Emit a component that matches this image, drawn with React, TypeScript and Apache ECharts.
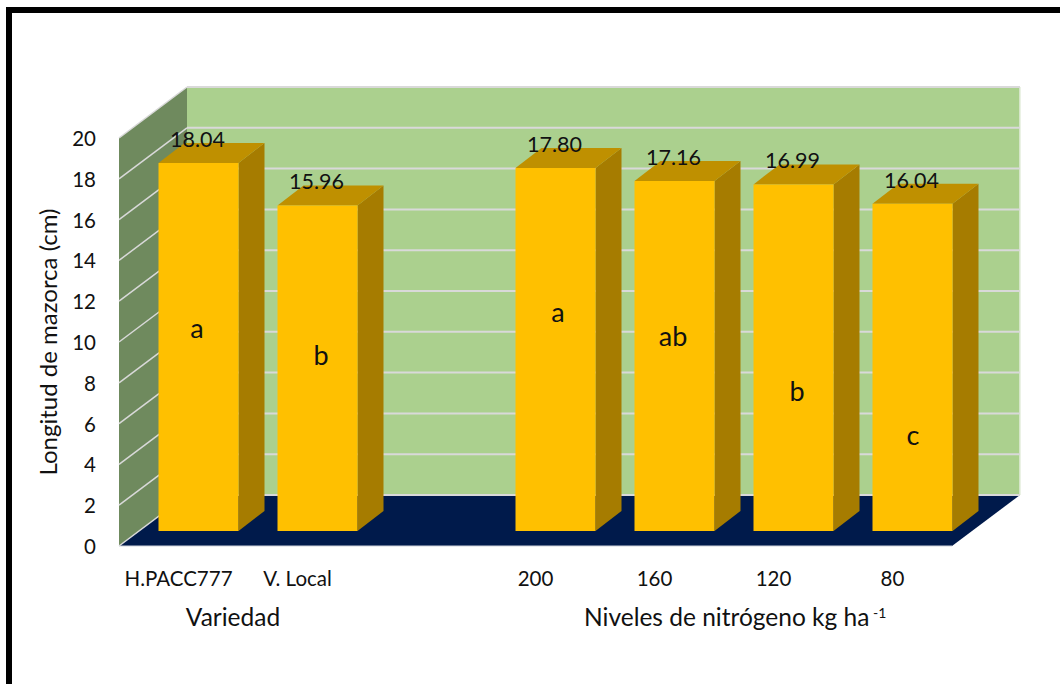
import React, { useEffect, useRef } from "react";
import * as echarts from "echarts";

const categories = ["H.PACC777", "V. Local", "", "200", "160", "120", "80"];
const lengths: (number | null)[] = [18.04, 15.96, null, 17.8, 17.16, 16.99, 16.04];
const yTicks = [0, 2, 4, 6, 8, 10, 12, 14, 16, 18, 20];

const FONT = "Lato, 'Liberation Sans', sans-serif";
const INK = "#111111";
const GRID_LINE = "#d9d9d9";
const WALL_DX = 68;
const WALL_DY = -51;
const BAR_W = 80;
const BAR_SHIFT_X = 20;
const BAR_SHIFT_Y = -15;
const DEPTH_X = 26;
const DEPTH_Y = -20;

function renderWalls(params: any, api: any) {
  const cs = params.coordSys;
  const left = cs.x;
  const right = cs.x + cs.width;
  const y0 = api.coord([0, 0])[1];
  const yMax = api.coord([0, 20])[1];
  const children: any[] = [
    {
      type: "polygon",
      shape: { points: [[left, y0], [left + WALL_DX, y0 + WALL_DY], [left + WALL_DX, yMax + WALL_DY], [left, yMax]] },
      style: { fill: "#6f8a5e" },
    },
    {
      type: "rect",
      shape: { x: left + WALL_DX, y: yMax + WALL_DY, width: cs.width, height: y0 - yMax },
      style: { fill: "#abd08e" },
    },
    {
      type: "polygon",
      shape: { points: [[left, y0], [right, y0], [right + WALL_DX, y0 + WALL_DY], [left + WALL_DX, y0 + WALL_DY]] },
      style: { fill: "#001a4b" },
    },
    {
      type: "line",
      shape: { x1: left, y1: y0, x2: right, y2: y0 },
      style: { stroke: "#cfd3dc", lineWidth: 1 },
    },
    {
      type: "line",
      shape: { x1: right + WALL_DX, y1: yMax + WALL_DY, x2: right + WALL_DX, y2: y0 + WALL_DY },
      style: { stroke: "#e4eedc", lineWidth: 1.5 },
    },
  ];
  yTicks.forEach((t) => {
    const y = api.coord([0, t])[1];
    children.push({
      type: "line",
      shape: { x1: left, y1: y, x2: left + WALL_DX, y2: y + WALL_DY },
      style: { stroke: GRID_LINE, lineWidth: 1.5 },
    });
    children.push({
      type: "line",
      shape: { x1: left + WALL_DX, y1: y + WALL_DY, x2: right + WALL_DX, y2: y + WALL_DY },
      style: { stroke: GRID_LINE, lineWidth: 2 },
    });
  });
  return { type: "group", children };
}

function renderBar(_params: any, api: any) {
  const v = api.value(1);
  const top = api.coord([api.value(0), v]);
  const base = api.coord([api.value(0), 0]);
  const x0 = top[0] + BAR_SHIFT_X - BAR_W / 2;
  const x1 = x0 + BAR_W;
  const yt = top[1] + BAR_SHIFT_Y;
  const yb = base[1] + BAR_SHIFT_Y;
  return {
    type: "group",
    children: [
      {
        type: "polygon",
        shape: { points: [[x1, yb], [x1 + DEPTH_X, yb + DEPTH_Y], [x1 + DEPTH_X, yt + DEPTH_Y], [x1, yt]] },
        style: { fill: "#a67c00" },
      },
      {
        type: "polygon",
        shape: { points: [[x0, yt], [x0 + DEPTH_X, yt + DEPTH_Y], [x1 + DEPTH_X, yt + DEPTH_Y], [x1, yt]] },
        style: { fill: "#bf9000" },
      },
      {
        type: "rect",
        shape: { x: x0, y: yt, width: BAR_W, height: yb - yt },
        style: { fill: "#ffc000" },
      },
      {
        type: "text",
        style: {
          text: v.toFixed(2),
          x: x0 + BAR_W / 2 - 1,
          y: yt - 24,
          align: "center",
          verticalAlign: "middle",
          fill: INK,
          font: `21.5px ${FONT}`,
        },
      },
    ],
  };
}

function txt(text: string, x: number, y: number, fontSize: number, align = "center") {
  return {
    type: "text",
    z: 50,
    style: { text, x, y, align, verticalAlign: "middle", fill: INK, font: `${fontSize}px ${FONT}` },
  };
}

export default function App() {
  const ref = useRef<HTMLDivElement>(null);
  useEffect(() => {
    const chart = echarts.init(ref.current!, undefined, { renderer: "svg" });
    chart.setOption({
      animation: false,
      backgroundColor: "#ffffff",
      grid: { left: 119, top: 138, width: 833, height: 408, containLabel: false },
      xAxis: {
        type: "category",
        data: categories,
        axisLine: { show: false },
        axisTick: { show: false },
        splitLine: { show: false },
        axisLabel: { interval: 0, margin: 21, color: INK, fontFamily: FONT, fontSize: 20.5 },
      },
      yAxis: {
        type: "value",
        min: 0,
        max: 20,
        interval: 2,
        axisLine: { show: false },
        axisTick: { show: false },
        splitLine: { show: false },
        axisLabel: { margin: 23, color: INK, fontFamily: FONT, fontSize: 20.5 },
        name: "Longitud de mazorca (cm)",
        nameLocation: "middle",
        nameGap: 60,
        nameTextStyle: { color: INK, fontFamily: FONT, fontSize: 24 },
      },
      series: [
        {
          type: "custom",
          clip: false,
          z: 1,
          silent: true,
          renderItem: renderWalls,
          data: [[0, 0]],
          encode: { x: 0, y: 1 },
        },
        {
          type: "custom",
          clip: false,
          z: 2,
          renderItem: renderBar,
          data: lengths.map((v, i) => [i, v]).filter((d) => d[1] !== null),
          encode: { x: 0, y: 1 },
        },
      ],
      graphic: [
        { type: "rect", shape: { x: 6, y: 7, width: 6, height: 677 }, style: { fill: "#000000" } },
        { type: "rect", shape: { x: 6, y: 7, width: 1054, height: 6 }, style: { fill: "#000000" } },
        txt("a", 197, 327, 27),
        txt("b", 321, 354, 27),
        txt("a", 558, 311, 27),
        txt("ab", 673, 335, 27),
        txt("b", 797, 390, 27),
        txt("c", 913, 434, 27),
        txt("Variedad", 233, 616, 24.5),
        txt("Niveles de nitrógeno kg ha", 584, 616, 24.5, "left"),
        txt("-1", 873, 612, 14, "left"),
      ],
    });
    return () => chart.dispose();
  }, []);
  return <div ref={ref} style={{ position: "absolute", left: 0, top: 0, width: 1060, height: 684 }} />;
}
